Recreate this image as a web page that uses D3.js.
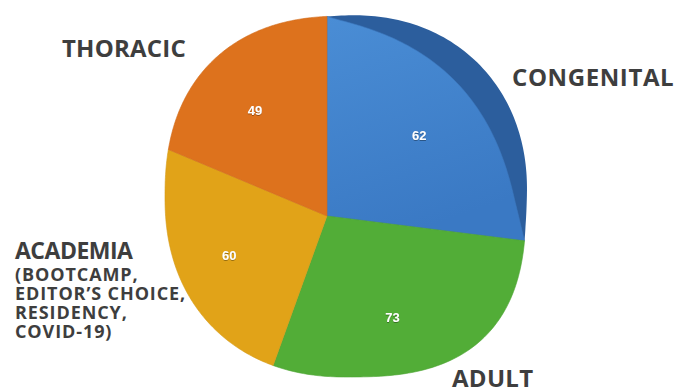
<!DOCTYPE html>
<html>
<head>
<meta charset="utf-8">
<script src="https://cdn.jsdelivr.net/npm/d3@7"></script>
<style>
  html, body { margin: 0; padding: 0; background: #ffffff; }
  svg { display: block; }
</style>
</head>
<body>
<svg id="chart" width="675" height="389"></svg>
<script>
// ---- data ----
const categories = ["CONGENITAL", "ADULT", "ACADEMIA", "THORACIC"];
const values = [62, 73, 60, 49];
const sliceColors = ["#3f80ca", "#52ad37", "#e1a318", "#dd721d"];
const academiaSubLines = ["(BOOTCAMP,", "EDITOR\u2019S CHOICE,", "RESIDENCY,", "COVID-19)"];

// ---- geometry (perspective-like pie) ----
const svg = d3.select("#chart");
const apex = [327, 216];
const shear = 0.1;
const ell = { cx: 346, cy: 197, aR: 180, aL: 181, bT: 181, bB: 180,
              nTR: 2.15, nBR: 2.7, nBL: 2.2, nTL: 2.35 };
const rimDepth = 26;

function dir(theta) {
  const x = Math.sin(theta), y = -Math.cos(theta) + shear * Math.sin(theta);
  const L = Math.hypot(x, y);
  return [x / L, y / L];
}
function outlineF(x, y) {
  const dx = x - ell.cx, dy = y - ell.cy;
  const a = dx >= 0 ? ell.aR : ell.aL;
  const b = dy >= 0 ? ell.bB : ell.bT;
  const n = dx >= 0 ? (dy >= 0 ? ell.nBR : ell.nTR) : (dy >= 0 ? ell.nBL : ell.nTL);
  return Math.pow(Math.abs(dx / a), n) + Math.pow(Math.abs(dy / b), n);
}
function R(theta) {
  const d = dir(theta);
  let lo = 0, hi = 420;
  for (let i = 0; i < 50; i++) {
    const m = (lo + hi) / 2;
    if (outlineF(apex[0] + m * d[0], apex[1] + m * d[1]) < 1) lo = m; else hi = m;
  }
  return lo;
}

const pie = d3.pie().sort(null).value(d => d);
const arcs = pie(values);
const line = d3.line().x(p => p[0]).y(p => p[1]);

function faceR(i, t, f) {
  return i === 0 ? R(t) - rimDepth * Math.pow(Math.sin(Math.PI * f), 0.9) : R(t);
}

function slicePath(a, radiusFn) {
  const pts = [apex.slice()];
  const N = 90;
  for (let i = 0; i <= N; i++) {
    const t = a.startAngle + (a.endAngle - a.startAngle) * i / N;
    const r = radiusFn(t, i / N);
    const d = dir(t);
    pts.push([apex[0] + r * d[0], apex[1] + r * d[1]]);
  }
  return line(pts) + "Z";
}

const defs = svg.append("defs");
const g1 = defs.append("linearGradient").attr("id", "blueGrad")
  .attr("x1", 0).attr("y1", 0).attr("x2", 0.3).attr("y2", 1);
g1.append("stop").attr("offset", "0%").attr("stop-color", "#4a8dd5");
g1.append("stop").attr("offset", "100%").attr("stop-color", "#3a79c4");

const sh = defs.append("filter").attr("id", "txtShadow")
  .attr("x", "-50%").attr("y", "-50%").attr("width", "200%").attr("height", "200%");
sh.append("feDropShadow").attr("dx", 0).attr("dy", 0.6).attr("stdDeviation", 0.7)
  .attr("flood-color", "#000").attr("flood-opacity", 0.55);

// raised rim of the first slice
svg.append("path")
  .attr("d", slicePath(arcs[0], (t, f) => R(t) + 3 * Math.sin(Math.PI * Math.min(1, f * 1.05))))
  .attr("fill", "#2c5e9d");

// slices
svg.selectAll("path.slice")
  .data(arcs)
  .enter()
  .append("path")
  .attr("class", "slice")
  .attr("d", (a, i) => slicePath(a, (t, f) => faceR(i, t, f)))
  .attr("fill", (a, i) => i === 0 ? "url(#blueGrad)" : sliceColors[i])
  .attr("stroke", (a, i) => d3.color(sliceColors[i]).darker(0.15))
  .attr("stroke-width", 0.6);

// value labels
function labelXY(a, i) {
  const m = (a.startAngle + a.endAngle) / 2;
  const r = 0.66 * faceR(i, m, 0.5);
  const d = dir(m);
  return [apex[0] + r * d[0], apex[1] + r * d[1]];
}
svg.selectAll("text.val")
  .data(arcs)
  .enter()
  .append("text")
  .attr("class", "val")
  .attr("x", (a, i) => labelXY(a, i)[0])
  .attr("y", (a, i) => labelXY(a, i)[1])
  .attr("dy", "0.35em")
  .attr("text-anchor", "middle")
  .attr("font-family", "Liberation Sans, Arial, sans-serif")
  .attr("font-weight", "bold")
  .attr("font-size", 13)
  .attr("fill", "#ffffff")
  .attr("filter", "url(#txtShadow)")
  .text(a => a.data);

// category labels
const labelStyle = [
  { x: 512, y: 86, size: 24, ls: 0.6 },
  { x: 452, y: 387, size: 24, ls: 0.3 },
  { x: 15, y: 259, size: 23, ls: -0.5 },
  { x: 62, y: 57, size: 24, ls: 0.2 }
];
const txtColor = "#3e3e3e";
categories.forEach((c, i) => {
  svg.append("text")
    .attr("x", labelStyle[i].x).attr("y", labelStyle[i].y)
    .attr("font-family", "Open Sans, sans-serif")
    .attr("font-weight", 700)
    .attr("font-size", labelStyle[i].size)
    .attr("letter-spacing", labelStyle[i].ls)
    .attr("fill", txtColor)
    .text(c);
});
const sub = svg.append("text")
  .attr("font-family", "Open Sans, sans-serif")
  .attr("font-weight", 700)
  .attr("font-size", 18)
  .attr("letter-spacing", 0.9)
  .attr("fill", txtColor);
academiaSubLines.forEach((s, i) => {
  sub.append("tspan").attr("x", 15).attr("y", 281 + i * 19).text(s);
});
</script>
</body>
</html>
